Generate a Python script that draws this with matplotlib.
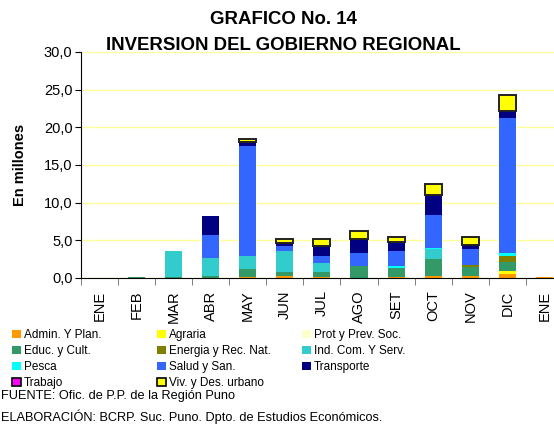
import numpy as np
import matplotlib.pyplot as plt
from matplotlib.patches import Patch
from matplotlib.ticker import FuncFormatter

plt.rcParams['font.family'] = ['Liberation Sans', 'DejaVu Sans']

months = ['ENE', 'FEB', 'MAR', 'ABR', 'MAY', 'JUN', 'JUL', 'AGO',
          'SET', 'OCT', 'NOV', 'DIC', 'ENE']

# millones de soles, por sector
admin = [0, 0, 0, 0, 0.13, 0.27, 0.13, 0, 0.1, 0.27, 0.27, 0.53, 0.1]
agraria = [0, 0, 0, 0, 0, 0, 0, 0, 0, 0, 0, 0.4, 0]
prot = [0] * 13
educ = [0, 0.15, 0.08, 0.27, 1.07, 0.53, 0.67, 1.6, 1.23, 2.26, 1.2, 1.2, 0]
energia = [0, 0, 0, 0, 0, 0, 0, 0, 0, 0, 0.26, 0.85, 0]
indcom = [0, 0, 3.52, 2.4, 1.73, 2.8, 1.2, 0, 0, 1.34, 0, 0, 0]
pesca = [0, 0, 0, 0, 0, 0, 0, 0, 0.27, 0.17, 0, 0.35, 0]
salud = [0, 0, 0, 3.06, 14.54, 0.7, 0.93, 1.73, 2.0, 4.36, 2.14, 17.87, 0]
transporte = [0, 0, 0, 2.54, 0.57, 0.32, 1.34, 1.87, 1.24, 2.67, 0.57, 0.98, 0]
trabajo = [0] * 13
vivienda = [0, 0, 0, 0, 0.36, 0.62, 0.97, 0.98, 0.58, 1.46, 0.94, 2.09, 0]

series = [
    ('Admin. Y Plan.', admin, '#FF9900'),
    ('Agraria', agraria, '#FFFF00'),
    ('Prot y Prev. Soc.', prot, '#FFFFCC'),
    ('Educ. y Cult.', educ, '#339966'),
    ('Energia y Rec. Nat.', energia, '#808000'),
    ('Ind. Com. Y Serv.', indcom, '#33CCCC'),
    ('Pesca', pesca, '#00FFFF'),
    ('Salud y San.', salud, '#3366FF'),
    ('Transporte', transporte, '#000080'),
    ('Trabajo', trabajo, '#FF00FF'),
    ('Viv. y Des. urbano', vivienda, '#FFFF00'),
]
edged = {'Trabajo', 'Viv. y Des. urbano'}

fig = plt.figure(figsize=(5.54, 4.25), dpi=100)
ax = fig.add_axes([0.1457, 0.3459, 0.8706, 0.5318])

x = np.arange(len(months))
bottom = np.zeros(len(months))
handles = {}
for name, vals, col in series:
    vals = np.array(vals, dtype=float)
    nz = vals > 0
    if name in edged:
        if nz.any():
            ax.bar(x[nz], vals[nz], 0.46, bottom=bottom[nz], color=col,
                   edgecolor='#222222', linewidth=1.4, zorder=3)
        handles[name] = Patch(facecolor=col, edgecolor='black', linewidth=1.2)
    else:
        if nz.any():
            ax.bar(x[nz], vals[nz], 0.46, bottom=bottom[nz], color=col,
                   linewidth=0, zorder=2)
        handles[name] = Patch(facecolor=col, edgecolor='none')
    bottom += vals

ax.set_xlim(-0.5, 12.5)
ax.set_ylim(0, 30)
ax.set_yticks(np.arange(0, 31, 5))
ax.yaxis.set_major_formatter(FuncFormatter(lambda v, p: f'{v:.1f}'.replace('.', ',')))
ax.tick_params(axis='y', direction='out', length=4, labelsize=10.5, pad=2)
ax.yaxis.grid(True, color='#FFFF99', linewidth=1)
ax.set_axisbelow(True)

ax.set_xticks(x)
ax.set_xticklabels(months, rotation=90, fontsize=10.5)
ax.tick_params(axis='x', which='major', length=0, pad=9)
ax.set_xticks(np.arange(-0.5, 13, 1), minor=True)
ax.tick_params(axis='x', which='minor', length=5, color='#666666', direction='out')

for s in ['top', 'right']:
    ax.spines[s].set_visible(False)
ax.spines['left'].set_color('black')
ax.spines['bottom'].set_color('black')

ax.set_ylabel('En millones', fontsize=10.5, fontweight='bold', labelpad=12)

fig.text(0.512, 1 - 19 / 425, 'GRAFICO No. 14', ha='center', va='center',
         fontsize=13.4, fontweight='bold')
fig.text(0.512, 1 - 46 / 425, 'INVERSION DEL GOBIERNO REGIONAL', ha='center',
         va='center', fontsize=13.4, fontweight='bold')

# legend, three columns filled row by row
cols = [
    ['Admin. Y Plan.', 'Educ. y Cult.', 'Pesca', 'Trabajo'],
    ['Agraria', 'Energia y Rec. Nat.', 'Salud y San.', 'Viv. y Des. urbano'],
    ['Prot y Prev. Soc.', 'Ind. Com. Y Serv.', 'Transporte'],
]
xs = [12 / 554, 157 / 554, 302 / 554]
for cx, names in zip(xs, cols):
    fig.legend([handles[n] for n in names], names, loc='upper left',
               bbox_to_anchor=(cx, 1 - 329 / 425), frameon=False,
               fontsize=8.5, handlelength=0.75, handleheight=0.75,
               handletextpad=0.25, labelspacing=0.34, borderpad=0,
               borderaxespad=0)

fig.text(0.001, 1 - 396 / 425, 'FUENTE: Ofic. de P.P. de la Región Puno',
         ha='left', va='center', fontsize=9.2)
fig.text(0.001, 1 - 417 / 425,
         'ELABORACIÓN: BCRP. Suc. Puno. Dpto. de Estudios Económicos.',
         ha='left', va='center', fontsize=9.2)

fig.savefig('out.png', dpi=100)
